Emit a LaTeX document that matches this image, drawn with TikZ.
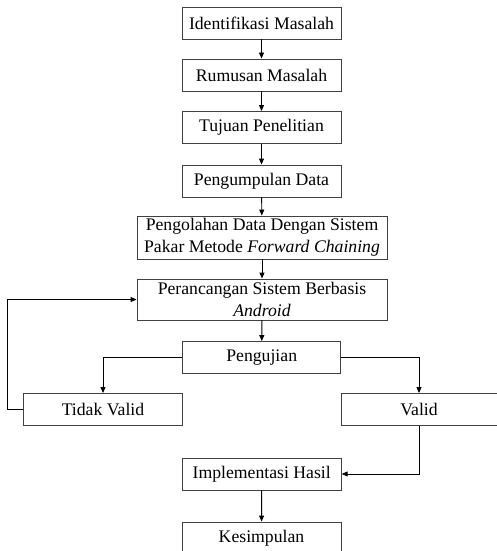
\documentclass[tikz,border=0pt]{standalone}
\usepackage{fontspec}
\setmainfont{Liberation Serif}
\usetikzlibrary{arrows.meta}
\begin{document}
\begin{tikzpicture}[x=1pt,y=-1pt,
  box/.style={draw=black!75,line width=0.9pt,fill=white,inner sep=1pt,
    align=center,font=\fontsize{17.7}{22}\selectfont},
  single/.style={box,minimum width=159pt,minimum height=32pt},
  wide/.style={box,minimum width=250pt,minimum height=42pt},
  flow/.style={draw=black,line width=0.9pt,-{Triangle[length=6pt,width=5pt]}},
  link/.style={draw=black,line width=0.9pt}]
\useasboundingbox (0,0) rectangle (497,551);
\clip (0,0) rectangle (497,551);

% main column
\node[single] (ident) at (261.5,23) {Identifikasi Masalah};
\node[single] (rumus) at (261.5,75) {Rumusan Masalah};
\node[single] (tujuan) at (261.5,127.5) {Tujuan Penelitian};
\node[single] (kumpul) at (261.5,181) {Pengumpulan Data};
\node[wide,minimum height=43pt] (olah) at (262,237.5) {Pengolahan Data Dengan Sistem\\Pakar Metode \textit{Forward Chaining}};
\node[wide,minimum height=41pt] (rancang) at (262,299.5) {Perancangan Sistem Berbasis\\\textit{Android}};
\node[single,minimum width=158pt] (uji) at (261.7,357.5) {Pengujian};

% test outcomes
\node[single] (tidak) at (103,409.5) {Tidak Valid};
\node[single,minimum width=156pt] (valid) at (419,409.5) {Valid};

% closing steps
\node[single] (impl) at (261.7,474) {Implementasi Hasil};
\node[single] (simpul) at (261.5,538) {Kesimpulan};

% connectors
\draw[flow] (ident) -- (rumus);
\draw[flow] (rumus) -- (tujuan);
\draw[flow] (tujuan) -- (kumpul);
\draw[flow] (kumpul) -- (olah);
\draw[flow] (olah) -- (rancang);
\draw[flow] (rancang) -- (uji);
\draw[flow] (uji.west) -| (tidak.north);
\draw[flow] (uji.east) -| (valid.north);
\draw[flow] (tidak.west) -- ++(-16,0) |- (rancang.west);
\draw[flow] (valid.south) |- (impl.east);
\draw[flow] (impl) -- (simpul);
\end{tikzpicture}
\end{document}
